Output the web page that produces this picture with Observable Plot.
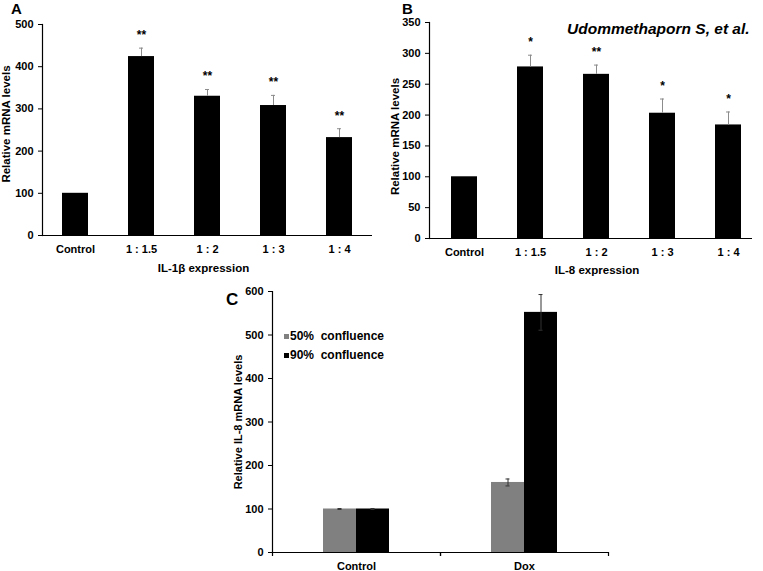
<!DOCTYPE html>
<html>
<head>
<meta charset="utf-8">
<script src="https://cdn.jsdelivr.net/npm/d3@7"></script>
<script src="https://cdn.jsdelivr.net/npm/@observablehq/plot@0.6"></script>
<style>
  html, body { margin: 0; padding: 0; background: #fff; }
  #wrap { position: relative; width: 763px; height: 571px; background: #fff; overflow: hidden;
          font-family: "Liberation Sans", Arial, sans-serif; font-weight: bold; color: #000; }
  .abs { position: absolute; line-height: 1; white-space: pre; }
  .panel { position: absolute; }
  .sq { position: absolute; width: 5px; height: 5px; }
</style>
</head>
<body>
<div id="wrap">
  <div id="pA" class="panel" style="left:0px;top:0px"></div>
  <div id="pB" class="panel" style="left:380px;top:0px"></div>
  <div id="pC" class="panel" style="left:200px;top:280px"></div>
  <div class="abs" id="lblA" style="left:11px;top:1px;font-size:15px"></div>
  <div class="abs" id="lblB" style="left:402px;top:1px;font-size:15px"></div>
  <div class="abs" id="lblC" style="left:226px;top:291px;font-size:17px"></div>
  <div class="abs" id="cite" style="left:567px;top:21px;font-size:15.5px;font-style:italic"></div>
  <div id="legend"></div>
</div>
<script>
// ---------- data ----------
const panelLabels = ["A", "B", "C"];
const citation = "Udommethaporn S, et al.";

const catsA = ["Control", "1 : 1.5", "1 : 2", "1 : 3", "1 : 4"];
const valuesA = [100, 424, 330, 308, 232];
const errA = [0, 20, 16, 24, 21];
const sigA = ["", "**", "**", "**", "**"];
const yTicksA = [0, 100, 200, 300, 400, 500];
const titleXA = "IL-1β expression";
const titleYA = "Relative mRNA levels";

const catsB = ["Control", "1 : 1.5", "1 : 2", "1 : 3", "1 : 4"];
const valuesB = [100, 278, 266, 203, 184];
const errB = [0, 19, 15, 23, 21];
const sigB = ["", "*", "**", "*", "*"];
const yTicksB = [0, 50, 100, 150, 200, 250, 300, 350];
const titleXB = "IL-8 expression";
const titleYB = "Relative mRNA levels";

const catsC = ["Control", "Dox"];
const seriesC = ["50%  confluence", "90%  confluence"];
const values50 = [100, 161];
const err50 = [1, 8];
const values90 = [100, 552];
const err90 = [1, 41];
const yTicksC = [0, 100, 200, 300, 400, 500, 600];
const titleYC = "Relative IL-8 mRNA levels";
const colorsC = ["#808080", "#000000"];

// ---------- helpers ----------
const FONT = "'Liberation Sans', Arial, sans-serif";
const baseStyle = { fontFamily: FONT, fontWeight: "bold", fontSize: "11px", color: "#000", background: "transparent", overflow: "visible" };

function barPanel(cats, values, errs, sigs, yTicks, yMax, titleX, titleY, o) {
  const data = cats.map((c, i) => ({ cat: c, value: values[i], err: errs[i], sig: sigs[i] }));
  const withErr = data.filter(d => d.err > 0);
  return Plot.plot({
    width: o.width, height: o.height,
    marginLeft: o.ml, marginRight: o.mr, marginTop: o.mt, marginBottom: o.mb,
    style: baseStyle,
    x: { domain: cats, paddingInner: 0.6, paddingOuter: 0.3, ...(o.xRange ? { range: o.xRange } : {}), label: null, axis: null },
    y: { domain: [0, yMax], label: null, axis: null },
    marks: [
      Plot.barY(data, { x: "cat", y: "value", fill: "#000" }),
      Plot.ruleX(withErr, { x: "cat", y1: "value", y2: d => d.value + d.err, stroke: "#8c8c8c", strokeWidth: 1 }),
      Plot.tickY(withErr, { x: "cat", y: d => d.value + d.err, stroke: "#8c8c8c", strokeWidth: 1, insetLeft: 11, insetRight: 11 }),
      Plot.text(data, { x: "cat", y: d => d.value + d.err, text: "sig", dy: -13, fontSize: 12 }),
      Plot.axisY({ ticks: yTicks, tickSize: 4, tickPadding: 5, tickFormat: d => String(d), label: null }),
      Plot.axisX({ tickSize: 0, tickPadding: 10, label: null }),
      Plot.ruleY([0], { stroke: "#000", strokeWidth: 1.2 }),
      Plot.frame({ anchor: "left", stroke: "#000", strokeWidth: 1.2 }),
      Plot.text([titleX], { text: d => d, frameAnchor: "bottom", lineAnchor: "middle", textAnchor: "middle", dy: o.xTitleDy, dx: o.xTitleDx, fontSize: 11.5 }),
      Plot.text([titleY], { text: d => d, frameAnchor: "left", rotate: -90, textAnchor: "middle", lineAnchor: "middle", dx: o.yTitleDx, dy: o.yTitleDy, fontSize: 11.5 })
    ]
  });
}

// ---------- panel A ----------
document.getElementById("pA").append(barPanel(catsA, valuesA, errA, sigA, yTicksA, 500, titleXA, titleYA, {
  width: 380, height: 280, ml: 42, mr: 8, mt: 24, mb: 45,
  xRange: null, xTitleDy: 33, xTitleDx: -4, yTitleDx: -36, yTitleDy: -6
}));

// ---------- panel B ----------
document.getElementById("pB").append(barPanel(catsB, valuesB, errB, sigB, yTicksB, 350, titleXB, titleYB, {
  width: 383, height: 280, ml: 49, mr: 11, mt: 22, mb: 42,
  xRange: [50, 383], xTitleDy: 32, xTitleDx: 6, yTitleDx: -34, yTitleDy: 6
}));

// ---------- panel C ----------
(function () {
  const data = [];
  catsC.forEach((c, i) => {
    data.push({ cat: c, series: seriesC[0], value: values50[i], err: err50[i] });
    data.push({ cat: c, series: seriesC[1], value: values90[i], err: err90[i] });
  });
  const W = 420, H = 291, ml = 72, mr = 12, mt = 11, mb = 19;
  const halfBand = (W - ml - mr) / catsC.length / 2;
  const chart = Plot.plot({
    width: W, height: H, marginLeft: ml, marginRight: mr, marginTop: mt, marginBottom: mb,
    style: baseStyle,
    fx: { domain: catsC, padding: 0, label: null },
    x: { domain: seriesC, paddingInner: 0, paddingOuter: 1.52, axis: null, label: null },
    y: { domain: [0, 600], label: null, axis: null },
    color: { domain: seriesC, range: colorsC },
    marks: [
      Plot.barY(data, { fx: "cat", x: "series", y: "value", fill: "series" }),
      Plot.ruleX(data, { fx: "cat", x: "series", y1: d => d.value - d.err, y2: d => d.value + d.err, stroke: "#333", strokeWidth: 1 }),
      Plot.tickY(data, { fx: "cat", x: "series", y: d => d.value + d.err, stroke: "#333", strokeWidth: 1, insetLeft: 14.5, insetRight: 14.5 }),
      Plot.tickY(data, { fx: "cat", x: "series", y: d => d.value - d.err, stroke: "#333", strokeWidth: 1, insetLeft: 14.5, insetRight: 14.5 }),
      Plot.axisY({ ticks: yTicksC, tickSize: 4, tickPadding: 5, tickFormat: d => String(d), label: null }),
      Plot.ruleY([0], { stroke: "#000", strokeWidth: 1.2 }),
      Plot.frame({ anchor: "left", facetAnchor: "left", stroke: "#000", strokeWidth: 1.2 }),
      Plot.axisFx({ anchor: "bottom", tickSize: 0, tickPadding: 10, label: null }),
      Plot.axisFx({ anchor: "bottom", tickSize: 4, fill: "none", dx: halfBand, label: null, strokeWidth: 1.2 }),
      Plot.axisFx({ anchor: "bottom", tickSize: 4, fill: "none", dx: -halfBand, label: null, strokeWidth: 1.2 }),
      Plot.text([titleYC], { fx: () => catsC[0], text: d => d, frameAnchor: "left", rotate: -90, textAnchor: "middle", lineAnchor: "middle", dx: -34, dy: 0, fontSize: 11 })
    ]
  });
  document.getElementById("pC").append(chart);

  // legend
  const leg = document.getElementById("legend");
  seriesC.forEach((s, i) => {
    const cy = 336 + i * 19;
    const sq = document.createElement("div");
    sq.className = "sq";
    sq.style.left = "284px"; sq.style.top = (cy - 2.5) + "px"; sq.style.background = colorsC[i];
    leg.append(sq);
    const t = document.createElement("div");
    t.className = "abs";
    t.style.left = "290px"; t.style.top = (cy - 6) + "px"; t.style.fontSize = "12px";
    t.textContent = s;
    leg.append(t);
  });
})();

document.getElementById("lblA").textContent = panelLabels[0];
document.getElementById("lblB").textContent = panelLabels[1];
document.getElementById("lblC").textContent = panelLabels[2];
document.getElementById("cite").textContent = citation;
</script>
</body>
</html>
